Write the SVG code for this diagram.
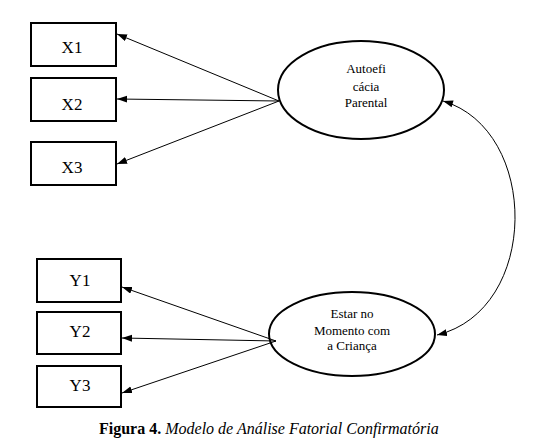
<svg xmlns="http://www.w3.org/2000/svg" width="540" height="445" viewBox="0 0 540 445">
<style>
.box{fill:#fff;stroke:#000;stroke-width:2}
.lat{fill:#fff;stroke:#000;stroke-width:2}
.t{font-family:'Liberation Serif','Times New Roman',Times,'DejaVu Serif',serif;fill:#000;text-anchor:middle}
.bt{font-size:17px}
.et{font-size:13px}
.cap{font-family:'Liberation Serif','Times New Roman',Times,'DejaVu Serif',serif;font-size:16px;fill:#000}
.c{stroke:#000;stroke-width:1;fill:none;marker-end:url(#ah)}
</style>
<defs>
<marker id="ah" markerUnits="userSpaceOnUse" markerWidth="11" markerHeight="8" refX="10" refY="3.5" orient="auto">
<path d="M0,0 L10,3.5 L0,7 z" fill="#000"/>
</marker>
<marker id="ahs" markerUnits="userSpaceOnUse" markerWidth="11" markerHeight="8" refX="0" refY="3.5" orient="auto">
<path d="M10,0 L0,3.5 L10,7 z" fill="#000"/>
</marker>
</defs>
<g id="X1"><rect class="box" x="31" y="23" width="85" height="43"/><text class="t bt" x="72" y="53">X1</text></g>
<g id="X2"><rect class="box" x="31" y="78" width="85" height="43"/><text class="t bt" x="72" y="110">X2</text></g>
<g id="X3"><rect class="box" x="31" y="142" width="85" height="43"/><text class="t bt" x="72" y="173">X3</text></g>
<g id="Y1"><rect class="box" x="37" y="259" width="84" height="43"/><text class="t bt" x="80" y="286">Y1</text></g>
<g id="Y2"><rect class="box" x="37" y="312" width="84" height="42"/><text class="t bt" x="80" y="337">Y2</text></g>
<g id="Y3"><rect class="box" x="37" y="366" width="84" height="41"/><text class="t bt" x="80" y="391">Y3</text></g>
<g id="AutoeficaciaParental"><ellipse class="lat" cx="361" cy="90" rx="83" ry="49"/>
<text class="t et" x="366" y="73">Autoefi</text><text class="t et" x="366" y="91">cácia</text><text class="t et" x="366" y="107">Parental</text></g>
<g id="EstarNoMomento"><ellipse class="lat" cx="352" cy="334" rx="83" ry="42"/>
<text class="t et" x="352" y="318">Estar no</text><text class="t et" x="352" y="335">Momento com</text><text class="t et" x="352" y="350">a Criança</text></g>
<g id="connectors">
<line class="c" x1="279" y1="101" x2="117" y2="34"/>
<line class="c" x1="279" y1="101" x2="117" y2="99"/>
<line class="c" x1="279" y1="101" x2="117" y2="164"/>
<line class="c" x1="276" y1="341" x2="122" y2="287"/>
<line class="c" x1="276" y1="341" x2="122" y2="338"/>
<line class="c" x1="276" y1="341" x2="122" y2="393"/>
<path class="c" d="M443,101 C540,130 540,310 437,335" marker-start="url(#ahs)"/>
</g>
<text class="cap" x="99" y="434"><tspan font-weight="bold">Figura 4.</tspan> <tspan font-style="italic">Modelo de Análise Fatorial Confirmatória</tspan></text>
</svg>
